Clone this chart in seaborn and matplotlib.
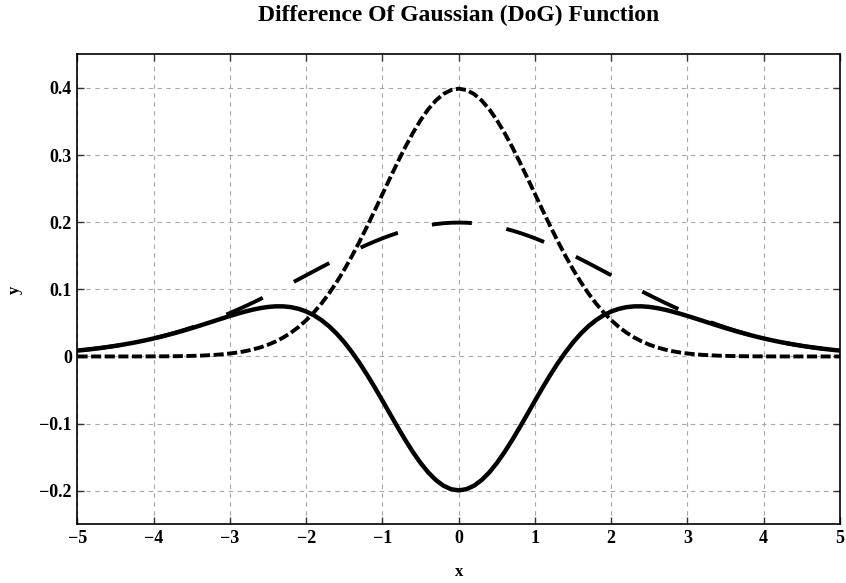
import numpy as np
import pandas as pd
import seaborn as sns
import matplotlib
matplotlib.use("Agg")
import matplotlib.pyplot as plt
from matplotlib.ticker import FixedLocator, FuncFormatter

# sample positions
x_vals = np.round(np.linspace(-5, 5, 101), 1)

# narrow Gaussian (short dashes), x = -5.0 ... 5.0 step 0.1
narrow = [0.0, 0.0, 0.0, 0.00001, 0.00001, 0.00002, 0.00002, 0.00004, 0.00006, 0.00009,
          0.00013, 0.00020, 0.00029, 0.00042, 0.00061, 0.00087, 0.00123, 0.00172, 0.00238, 0.00327,
          0.00443, 0.00595, 0.00792, 0.01042, 0.01358, 0.01753, 0.02239, 0.02833, 0.03547, 0.04398,
          0.05399, 0.06562, 0.07895, 0.09405, 0.11092, 0.12952, 0.14973, 0.17137, 0.19419, 0.21785,
          0.24197, 0.26609, 0.28969, 0.31225, 0.33322, 0.35207, 0.36827, 0.38139, 0.39104, 0.39695,
          0.39894,
          0.39695, 0.39104, 0.38139, 0.36827, 0.35207, 0.33322, 0.31225, 0.28969, 0.26609, 0.24197,
          0.21785, 0.19419, 0.17137, 0.14973, 0.12952, 0.11092, 0.09405, 0.07895, 0.06562, 0.05399,
          0.04398, 0.03547, 0.02833, 0.02239, 0.01753, 0.01358, 0.01042, 0.00792, 0.00595, 0.00443,
          0.00327, 0.00238, 0.00172, 0.00123, 0.00087, 0.00061, 0.00042, 0.00029, 0.00020, 0.00013,
          0.00009, 0.00006, 0.00004, 0.00002, 0.00002, 0.00001, 0.00001, 0.0, 0.0, 0.0]

# wide Gaussian (long dashes)
wide = [0.00876, 0.00992, 0.01120, 0.01261, 0.01417, 0.01587, 0.01774, 0.01978, 0.02199, 0.02440,
        0.02700, 0.02980, 0.03281, 0.03603, 0.03948, 0.04314, 0.04702, 0.05113, 0.05546, 0.06001,
        0.06476, 0.06971, 0.07486, 0.08019, 0.08568, 0.09133, 0.09710, 0.10297, 0.10893, 0.11494,
        0.12099, 0.12703, 0.13305, 0.13899, 0.14485, 0.15057, 0.15612, 0.16149, 0.16661, 0.17147,
        0.17603, 0.18026, 0.18414, 0.18762, 0.19069, 0.19333, 0.19552, 0.19724, 0.19848, 0.19922,
        0.19947,
        0.19922, 0.19848, 0.19724, 0.19552, 0.19333, 0.19069, 0.18762, 0.18414, 0.18026, 0.17603,
        0.17147, 0.16661, 0.16149, 0.15612, 0.15057, 0.14485, 0.13899, 0.13305, 0.12703, 0.12099,
        0.11494, 0.10893, 0.10297, 0.09710, 0.09133, 0.08568, 0.08019, 0.07486, 0.06971, 0.06476,
        0.06001, 0.05546, 0.05113, 0.04702, 0.04314, 0.03948, 0.03603, 0.03281, 0.02980, 0.02700,
        0.02440, 0.02199, 0.01978, 0.01774, 0.01587, 0.01417, 0.01261, 0.01120, 0.00992, 0.00876]

# difference of Gaussians (solid)
dog = [0.00876, 0.00992, 0.01120, 0.01260, 0.01416, 0.01585, 0.01772, 0.01974, 0.02193, 0.02431,
       0.02687, 0.02960, 0.03252, 0.03561, 0.03887, 0.04227, 0.04579, 0.04941, 0.05308, 0.05674,
       0.06033, 0.06376, 0.06694, 0.06977, 0.07210, 0.07380, 0.07471, 0.07464, 0.07346, 0.07096,
       0.06700, 0.06141, 0.05410, 0.04494, 0.03393, 0.02105, 0.00639, -0.00988, -0.02758, -0.04638,
       -0.06594, -0.08583, -0.10555, -0.12463, -0.14253, -0.15874, -0.17275, -0.18415, -0.19256, -0.19773,
       -0.19947,
       -0.19773, -0.19256, -0.18415, -0.17275, -0.15874, -0.14253, -0.12463, -0.10555, -0.08583, -0.06594,
       -0.04638, -0.02758, -0.00988, 0.00639, 0.02105, 0.03393, 0.04494, 0.05410, 0.06141, 0.06700,
       0.07096, 0.07346, 0.07464, 0.07471, 0.07380, 0.07210, 0.06977, 0.06694, 0.06376, 0.06033,
       0.05674, 0.05308, 0.04941, 0.04579, 0.04227, 0.03887, 0.03561, 0.03252, 0.02960, 0.02687,
       0.02431, 0.02193, 0.01974, 0.01772, 0.01585, 0.01416, 0.01260, 0.01120, 0.00992, 0.00876]

x_ticks = [-5, -4, -3, -2, -1, 0, 1, 2, 3, 4, 5]
y_ticks = [-0.2, -0.1, 0.0, 0.1, 0.2, 0.3, 0.4]

title = "Difference Of Gaussian (DoG) Function"

sns.set_style("ticks")
plt.rcParams['font.family'] = ['Liberation Serif', 'DejaVu Serif']
plt.rcParams['font.weight'] = 'bold'
plt.rcParams['text.color'] = 'black'
plt.rcParams['axes.labelcolor'] = 'black'
plt.rcParams['xtick.color'] = 'black'
plt.rcParams['ytick.color'] = 'black'

fig = plt.figure(figsize=(8.46, 5.83), dpi=100)
ax_rect = [0.0916, 0.1007, 0.9013, 0.806]
ax = fig.add_axes(ax_rect)

df = pd.DataFrame({"x": x_vals, "narrow": narrow, "wide": wide, "dog": dog})

sns.lineplot(data=df, x="x", y="wide", ax=ax, color="black", lw=2.8,
             linestyle=(18.35, (10.3, 9.0)), zorder=3)
sns.lineplot(data=df, x="x", y="narrow", ax=ax, color="black", lw=2.8,
             linestyle=(0, (2.6, 0.9)), zorder=4)
sns.lineplot(data=df, x="x", y="dog", ax=ax, color="black", lw=3.2,
             linestyle="-", zorder=5)

ax.set_xlim(-5, 5)
ax.set_ylim(-0.25, 0.45)
ax.xaxis.set_major_locator(FixedLocator(x_ticks))
ax.yaxis.set_major_locator(FixedLocator(y_ticks))

def xfmt(v, pos):
    return ("\u2212%d" % abs(round(v))) if v < 0 else "%d" % round(v)

def yfmt(v, pos):
    if abs(v) < 1e-9:
        return "0"
    s = "%.1f" % abs(v)
    return ("\u2212" + s) if v < 0 else s

ax.xaxis.set_major_formatter(FuncFormatter(xfmt))
ax.yaxis.set_major_formatter(FuncFormatter(yfmt))

ax.tick_params(axis="both", direction="in", length=5, width=1, labelsize=13,
               top=True, right=True, pad=4, color="#333333", labelcolor="black")
for lbl in ax.get_xticklabels() + ax.get_yticklabels():
    lbl.set_fontweight("bold")

ax.grid(True, color="#a8a8a8", linestyle=(0, (4, 4)), linewidth=0.8)
ax.set_axisbelow(True)
for sp in ax.spines.values():
    sp.set_linewidth(1.2)
    sp.set_color("black")

ax.set_xlabel("x", fontsize=12, fontweight="bold", labelpad=12, color="black")
ax.set_ylabel("y", fontsize=12, fontweight="bold", labelpad=12, color="black")
fig.text(ax_rect[0] + ax_rect[2] / 2, 1 - 15 / 583, title, fontsize=17,
         fontweight="bold", ha="center", va="center", color="black")

fig.savefig("out.png", dpi=100)
